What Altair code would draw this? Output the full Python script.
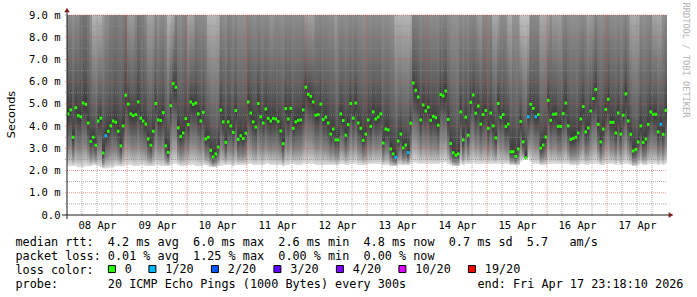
import json
import altair as alt
import pandas as pd

# ---------------- data ----------------
day_labels = ["08 Apr", "09 Apr", "10 Apr", "11 Apr", "12 Apr",
              "13 Apr", "14 Apr", "15 Apr", "16 Apr", "17 Apr"]

# hourly median rtt (ms), 240 hours
median_ms = [
    4.55, 4.73, 3.50, 4.83, 4.47, 4.42, 5.04, 4.98, 4.14, 3.31, 3.50, 3.14, 4.23, 4.36, 2.79, 3.57, 3.77, 4.01, 4.23, 4.17, 3.77, 3.11, 4.01, 5.39,
    4.99, 4.55, 4.47, 4.52, 5.09, 4.36, 4.23, 4.09, 3.42, 3.14, 3.77, 5.02, 4.28, 4.25, 4.61, 3.11, 2.82, 4.92, 5.91, 5.75, 3.92, 3.53, 3.69, 4.34,
    4.07, 5.09, 4.98, 5.04, 4.55, 4.23, 4.62, 3.42, 3.50, 2.91, 2.61, 2.75, 3.06, 4.72, 4.19, 3.27, 4.19, 4.01, 3.72, 4.70, 3.40, 3.57, 3.44, 3.68,
    5.09, 4.59, 4.19, 3.96, 5.02, 4.42, 4.14, 4.77, 4.35, 4.23, 4.35, 4.32, 4.21, 3.78, 3.21, 4.79, 4.32, 4.80, 3.90, 4.19, 4.26, 4.28, 4.73, 5.75,
    5.43, 5.34, 5.09, 4.49, 4.52, 4.99, 4.30, 4.40, 4.14, 3.64, 3.87, 3.38, 3.38, 4.55, 4.25, 3.59, 4.07, 5.02, 4.36, 5.04, 4.14, 3.90, 3.36, 3.64,
    4.28, 3.99, 4.64, 4.32, 4.41, 4.55, 3.24, 3.87, 3.83, 2.97, 2.75, 2.60, 3.33, 3.64, 3.02, 3.15, 2.81, 4.13, 5.94, 5.61, 5.31, 4.28, 4.95, 4.68,
    4.85, 4.26, 4.44, 4.38, 4.04, 5.42, 5.36, 5.58, 4.30, 3.22, 2.80, 2.69, 2.75, 4.64, 3.38, 4.40, 3.59, 5.07, 5.40, 4.58, 4.90, 4.09, 4.52, 4.70,
    3.90, 4.59, 4.01, 3.47, 5.02, 4.40, 4.52, 3.98, 4.09, 2.85, 2.85, 2.64, 2.97, 4.21, 3.29, 2.57, 4.42, 4.98, 4.80, 4.42, 4.52, 3.01, 3.15, 3.51,
    5.16, 4.26, 4.53, 4.55, 3.99, 3.99, 4.56, 5.04, 4.01, 3.40, 3.45, 3.50, 3.69, 4.32, 4.88, 3.74, 3.92, 4.68, 5.24, 5.65, 4.08, 3.29, 3.87, 4.75,
    5.21, 4.17, 4.17, 3.69, 4.59, 3.64, 4.49, 5.45, 4.23, 3.63, 2.88, 2.95, 3.29, 4.01, 3.27, 3.42, 4.08, 4.64, 4.53, 4.53, 3.74, 4.08, 3.63, 4.71,
]

# hours that lost 1 of 20 pings (light-blue median)
lossy_hours = [15, 131, 136, 184, 187, 237]

# bottom of the smoke (fastest pings, ms)
lo_ms = [
    2.20, 2.20, 2.20, 2.20, 2.15, 2.15, 2.15, 2.20, 2.20, 2.20, 2.25, 2.25, 2.20, 2.15, 2.10, 2.10, 2.10, 2.15, 2.15, 2.20, 2.20, 2.20, 2.20, 2.25,
    2.25, 2.25, 2.20, 2.20, 2.20, 2.25, 2.25, 2.20, 2.20, 2.20, 2.20, 2.25, 2.25, 2.20, 2.20, 2.20, 2.20, 2.25, 2.30, 2.30, 2.25, 2.20, 2.20, 2.20,
    2.25, 2.25, 2.25, 2.20, 2.20, 2.20, 2.25, 2.25, 2.20, 2.15, 2.15, 2.15, 2.20, 2.20, 2.25, 2.25, 2.25, 2.25, 2.20, 2.25, 2.25, 2.25, 2.25, 2.25,
    2.30, 2.30, 2.25, 2.25, 2.25, 2.25, 2.25, 2.30, 2.30, 2.25, 2.25, 2.25, 2.25, 2.25, 2.20, 2.25, 2.25, 2.30, 2.30, 2.25, 2.25, 2.25, 2.30, 2.30,
    2.30, 2.30, 2.30, 2.25, 2.25, 2.25, 2.25, 2.25, 2.25, 2.25, 2.25, 2.25, 2.25, 2.30, 2.30, 2.25, 2.25, 2.30, 2.30, 2.30, 2.25, 2.25, 2.25, 2.25,
    2.30, 2.30, 2.30, 2.30, 2.30, 2.30, 2.25, 2.25, 2.25, 2.20, 2.20, 2.20, 2.25, 2.25, 2.25, 2.25, 2.25, 2.30, 2.35, 2.35, 2.30, 2.30, 2.30, 2.30,
    2.30, 2.30, 2.30, 2.30, 2.30, 2.35, 2.35, 2.35, 2.30, 2.25, 2.20, 2.20, 2.20, 2.30, 2.25, 2.30, 2.30, 2.30, 2.35, 2.30, 2.30, 2.30, 2.30, 2.30,
    2.30, 2.30, 2.30, 2.30, 2.30, 2.30, 2.30, 2.30, 2.30, 2.25, 2.25, 2.25, 2.25, 2.40, 2.50, 2.55, 2.55, 2.40, 2.30, 2.30, 2.30, 2.25, 2.25, 2.25,
    2.30, 2.30, 2.30, 2.30, 2.30, 2.30, 2.30, 2.30, 2.30, 2.25, 2.25, 2.25, 2.25, 2.30, 2.30, 2.25, 2.25, 2.30, 2.30, 2.30, 2.30, 2.25, 2.25, 2.30,
    2.30, 2.30, 2.30, 2.25, 2.30, 2.25, 2.30, 2.30, 2.30, 2.25, 2.20, 2.20, 2.25, 2.30, 2.25, 2.25, 2.30, 2.30, 2.30, 2.30, 2.25, 2.30, 2.25, 2.30,
]

# top of the smoke (slowest pings, ms; mostly above the 9 ms ceiling)
hi_ms = [
    12, 12, 12, 12, 12, 15, 15, 15, 14, 12, 9.5, 9.5, 9.5, 9.5, 11, 12, 12, 14, 14, 14, 14, 14, 14, 14,
    10.5, 10.5, 10.5, 12, 14, 14, 14, 12, 10.5, 10.5, 10.5, 12, 11, 12, 12, 12, 9.5, 9.5, 9.5, 12, 12, 12, 13, 13,
    10, 10, 10, 12, 12, 12, 12, 12, 9.5, 9.5, 9.5, 9.5, 9.5, 12, 12, 12, 13, 13, 12, 12, 12, 12, 12, 12,
    12, 12, 12, 12, 12, 12, 12, 12, 12, 11, 11, 12, 12, 12, 12, 12, 12, 12, 12, 12, 12, 12, 12, 10,
    10, 10, 10, 12, 12, 12, 12, 12, 12, 12, 12, 10.5, 12, 12, 12, 12, 12, 12, 12, 12, 12, 12, 12, 12,
    12, 12, 12, 12, 12, 12, 12, 12, 12, 12, 12, 9.5, 9.5, 9.5, 9.5, 9.5, 9.5, 9.5, 12, 12, 12, 12, 12, 12,
    12, 12, 12, 12, 12, 12, 12, 12, 12, 12, 12, 12, 12, 12, 12, 12, 12, 12, 12, 12, 10.5, 10.5, 12, 12,
    12, 12, 10, 10, 10, 12, 12, 12, 10, 10, 12, 12, 12, 9, 9, 9, 9, 12, 12, 12, 12, 10, 10, 10,
    10, 12, 10.5, 10.5, 10.5, 10.5, 12, 12, 12, 12, 12, 12, 12, 12, 12, 12, 10.5, 10.5, 10.5, 12, 12, 12, 12, 12,
    12, 12, 12, 12, 12, 12, 12, 12, 12, 10, 10, 10, 10, 12, 12, 12, 12, 12, 10, 10, 10, 10, 12, 12,
]

loss_levels = ["0", "1/20", "2/20", "3/20", "4/20", "10/20", "19/20"]
loss_colors = ["#26ff00", "#00b8ff", "#0059ff", "#5e00ff", "#7e00ff", "#dd00ff", "#ff0000"]

y_major = [1, 2, 3, 4, 5, 6, 7, 8, 9]
y_minor = [0.5, 1.5, 2.5, 3.5, 4.5, 5.5, 6.5, 7.5, 8.5]
y_ticks = [0, 1, 2, 3, 4, 5, 6, 7, 8, 9]
x_major = [24, 48, 72, 96, 120, 144, 168, 192, 216]
x_minor = [h for d in range(10) for h in (d * 24 + 6, d * 24 + 12, d * 24 + 18)]
x_label_pos = [d * 24 + 12 for d in range(10)]

stat_line_1 = "median rtt:  4.2 ms avg  6.0 ms max  2.6 ms min  4.8 ms now  0.7 ms sd  5.7   am/s"
stat_line_2 = "packet loss: 0.01 % avg  1.25 % max  0.00 % min  0.00 % now"
stat_line_3 = "loss color:"
stat_line_4 = "probe:       20 ICMP Echo Pings (1000 Bytes) every 300s"
end_text = "end: Fri Apr 17 23:18:10 2026"
watermark = "RRDTOOL / TOBI OETIKER"

# ---------------- tables ----------------
hours = list(range(len(median_ms)))
df = pd.DataFrame({
    "h": hours,
    "med": median_ms,
    "lo": lo_ms,
    "hi": hi_ms,
    "loss": ["1/20" if h in lossy_hours else "0" for h in hours],
})

MONO = "DejaVu Sans Mono"
W, H = 600, 200
L, T = 67, 15

xs = alt.Scale(domain=[0, 240], nice=False, zero=False)
ys = alt.Scale(domain=[0, 9], nice=False, zero=True)

x_label_expr = json.dumps(day_labels) + "[round((datum.value - 12) / 24)]"
X_AX = alt.Axis(values=x_label_pos, labelExpr=x_label_expr, title=None,
                domain=False, ticks=False, grid=False,
                labelFont=MONO, labelFontSize=10.5, labelColor="#000000",
                labelPadding=5, labelBaseline="top")
Y_AX = alt.Axis(values=y_ticks,
                labelExpr="datum.value == 0 ? '0.0' : format(datum.value, '.1f') + ' m'",
                title="Seconds", titleFont="DejaVu Sans", titleFontSize=11.3,
                titleFontWeight="normal", titleColor="#000000",
                titleAngle=270, titleX=-56, titleY=99,
                titleAlign="center", titleBaseline="middle",
                domain=False, ticks=False, grid=False,
                labelFont=MONO, labelFontSize=10.5, labelColor="#000000",
                labelPadding=7)


def X(f):
    return alt.X(f, scale=xs, axis=X_AX, title=None)


def Y(f):
    return alt.Y(f, scale=ys, axis=Y_AX, title="Seconds")


low_grad = {"gradient": "linear", "x1": 0, "y1": 1, "x2": 0, "y2": 0,
            "stops": [{"offset": 0, "color": "#e0e0e0"},
                      {"offset": 0.15, "color": "#b0b0b0"},
                      {"offset": 0.35, "color": "#858585"},
                      {"offset": 0.7, "color": "#5a5a5a"},
                      {"offset": 1, "color": "#3a3a3a"}]}
up_grad = {"gradient": "linear", "x1": 0, "y1": 1, "x2": 0, "y2": 0,
           "stops": [{"offset": 0, "color": "#3a3a3a"},
                     {"offset": 0.06, "color": "#4a4a4a"},
                     {"offset": 0.2, "color": "#606060"},
                     {"offset": 0.45, "color": "#7a7a7a"},
                     {"offset": 0.75, "color": "#9c9c9c"},
                     {"offset": 1, "color": "#c0c0c0"}]}

base = alt.Chart(df).transform_calculate(h2="datum.h + 1.2", h1="datum.h + 1")

smoke_low = base.mark_rect(fill=low_grad, clip=True).encode(
    x=X("h:Q"), x2="h2:Q", y=Y("lo:Q"), y2="med:Q")
smoke_up = base.mark_rect(fill=up_grad, clip=True).encode(
    x=X("h:Q"), x2="h2:Q", y=Y("med:Q"), y2="hi:Q")

major_c = "rgba(222,79,79,0.6)"
minor_c = "rgba(143,143,143,0.75)"

gy_minor = alt.Chart(pd.DataFrame({"v": y_minor})).mark_rule(
    color=minor_c, strokeDash=[1, 1], strokeWidth=1).encode(
    y=Y("v:Q"), x=alt.value(-2), x2=alt.value(W))
gy_major = alt.Chart(pd.DataFrame({"v": y_major})).mark_rule(
    color=major_c, strokeDash=[1, 1], strokeWidth=1).encode(
    y=Y("v:Q"), x=alt.value(-2), x2=alt.value(W))
gx_minor = alt.Chart(pd.DataFrame({"v": x_minor})).mark_rule(
    color=minor_c, strokeDash=[1, 1], strokeWidth=1).encode(
    x=X("v:Q"), y=alt.value(0), y2=alt.value(H + 2))
gx_major = alt.Chart(pd.DataFrame({"v": x_major})).mark_rule(
    color=major_c, strokeDash=[1, 1], strokeWidth=1).encode(
    x=X("v:Q"), y=alt.value(0), y2=alt.value(H + 2))

medians = base.transform_calculate(
    m1="datum.med - 0.068", m2="datum.med + 0.068").mark_rect().encode(
    x=X("h:Q"), x2="h1:Q", y=Y("m1:Q"), y2="m2:Q",
    color=alt.Color("loss:N",
                    scale=alt.Scale(domain=loss_levels, range=loss_colors),
                    legend=alt.Legend(
                        orient="none", legendX=39, legendY=248,
                        direction="horizontal", columns=7, title=None,
                        symbolType="square", symbolSize=49,
                        symbolStrokeColor="#000000", symbolStrokeWidth=1,
                        symbolOpacity=1,
                        labelFont=MONO, labelFontSize=11.8, labelColor="#000000",
                        labelOffset=7, columnPadding=14.5, padding=0,
                        rowPadding=0)))

axis_c = "#1f1f1f"
arrow_c = "#801f1f"
x_line = alt.Chart().mark_rule(color=axis_c, strokeWidth=1).encode(
    x=alt.value(-5), x2=alt.value(W + 2), y=alt.value(H))
y_line = alt.Chart().mark_rule(color=axis_c, strokeWidth=1).encode(
    y=alt.value(H + 4), y2=alt.value(-3), x=alt.value(0))
x_arrow = alt.Chart().mark_point(shape="triangle-right", filled=True, size=30,
                                 color=arrow_c, opacity=1).encode(
    x=alt.value(W + 4), y=alt.value(H))
y_arrow = alt.Chart().mark_point(shape="triangle-up", filled=True, size=30,
                                 color=arrow_c, opacity=1).encode(
    x=alt.value(0), y=alt.value(-5))

NBSP = "\u00a0"


def text_at(s, x, y, **kw):
    opts = dict(align="left", baseline="middle", font=MONO, fontSize=11.8, color="#000000")
    opts.update(kw)
    return alt.Chart().mark_text(**opts).encode(
        x=alt.value(x), y=alt.value(y), text=alt.value(s.replace(" ", NBSP)))


t1 = text_at(stat_line_1, 15.5 - L, 241.5 - T)
t2 = text_at(stat_line_2, 15.5 - L, 255.5 - T)
t3 = text_at(stat_line_3, 15.5 - L, 269.5 - T)
t4 = text_at(stat_line_4, 15.5 - L, 283.5 - T)
t5 = text_at(end_text, 477.5 - L, 283.5 - T)
wm = text_at(watermark, 686 - L, 60 - T, align="center", angle=90,
             fontSize=8.7, color="#b4b4b4")

chart = alt.layer(
    smoke_low, smoke_up, gy_minor, gx_minor, gy_major, gx_major, medians,
    x_line, y_line, x_arrow, y_arrow,
    t1, t2, t3, t4, t5, wm,
).properties(
    width=W, height=H,
    padding={"left": L, "top": T, "right": 30, "bottom": 82},
    autosize=alt.AutoSizeParams(type="none"),
    background="#ffffff",
).configure_view(strokeWidth=0)

chart.save("out.html", embed_options={"renderer": "svg", "actions": False})
